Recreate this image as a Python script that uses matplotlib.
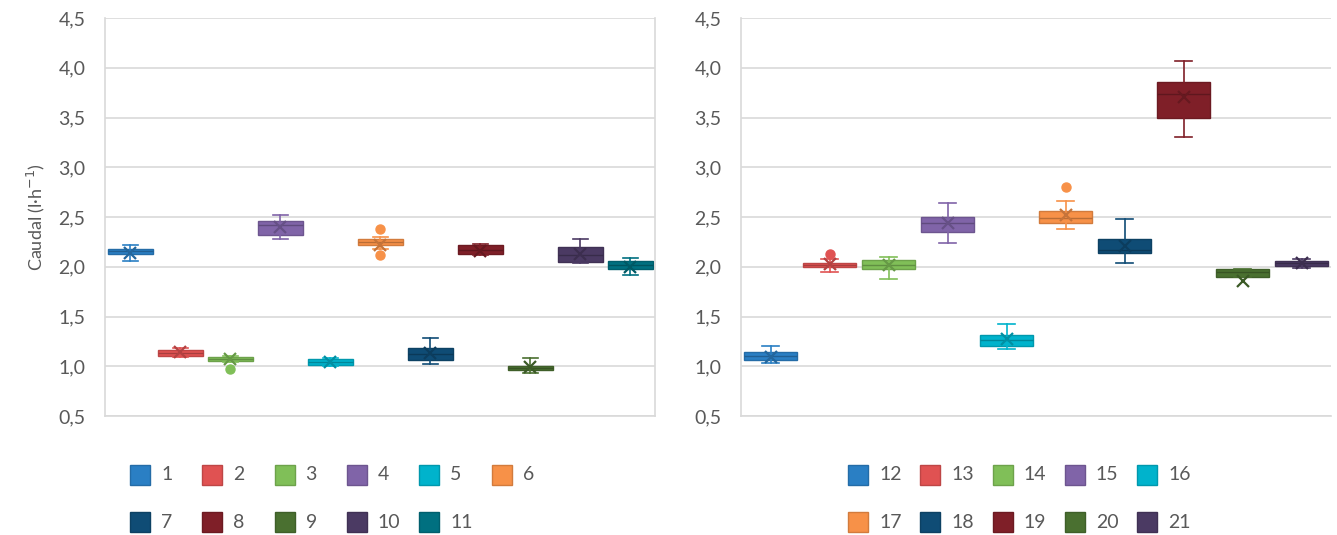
import matplotlib.pyplot as plt
from matplotlib.patches import Rectangle
from matplotlib.ticker import FuncFormatter
import numpy as np

plt.rcParams['font.family'] = ['Lato', 'DejaVu Sans']

# Series 1-11 (left panel)
left_ids = ["1", "2", "3", "4", "5", "6", "7", "8", "9", "10", "11"]
left_whislo = [2.06, 1.09, 1.04, 2.28, 1.00, 2.18, 1.02, 2.12, 0.93, 2.04, 1.92]
left_q1 = [2.13, 1.10, 1.05, 2.32, 1.01, 2.22, 1.06, 2.13, 0.96, 2.05, 1.98]
left_med = [2.16, 1.13, 1.07, 2.42, 1.04, 2.25, 1.12, 2.17, 0.98, 2.12, 2.02]
left_q3 = [2.18, 1.16, 1.09, 2.46, 1.07, 2.28, 1.18, 2.22, 1.00, 2.20, 2.06]
left_whishi = [2.22, 1.18, 1.10, 2.52, 1.08, 2.30, 1.28, 2.23, 1.08, 2.28, 2.09]
left_mean = [2.14, 1.14, 1.07, 2.40, 1.04, 2.22, 1.13, 2.16, 0.99, 2.13, 2.00]
left_fliers = [[], [], [0.97], [], [], [2.38, 2.12], [], [], [], [], []]
left_colors = ["#2A7FC4", "#E05252", "#80BF58", "#8064A8", "#00B3CC", "#F79148",
               "#0F4C75", "#7F1F28", "#4A7030", "#4B3A63", "#007080"]

# Series 12-21 (right panel)
right_ids = ["12", "13", "14", "15", "16", "17", "18", "19", "20", "21"]
right_whislo = [1.03, 1.95, 1.88, 2.24, 1.17, 2.38, 2.04, 3.30, 1.90, 1.99]
right_q1 = [1.06, 2.00, 1.98, 2.35, 1.20, 2.44, 2.14, 3.49, 1.90, 2.01]
right_med = [1.10, 2.02, 2.02, 2.44, 1.26, 2.49, 2.17, 3.74, 1.95, 2.04]
right_q3 = [1.14, 2.04, 2.07, 2.50, 1.31, 2.56, 2.28, 3.86, 1.98, 2.06]
right_whishi = [1.20, 2.08, 2.10, 2.64, 1.42, 2.66, 2.48, 4.07, 1.98, 2.08]
right_mean = [1.09, 2.03, 2.02, 2.44, 1.27, 2.52, 2.21, 3.71, 1.86, 2.04]
right_fliers = [[], [2.13], [], [], [], [2.80], [], [], [], []]
right_colors = ["#2A7FC4", "#E05252", "#80BF58", "#8064A8", "#00B3CC", "#F79148",
                "#0F4C75", "#7F1F28", "#4A7030", "#4B3A63"]

yticks = [0.5, 1.0, 1.5, 2.0, 2.5, 3.0, 3.5, 4.0, 4.5]

text_color = "#595959"
grid_color = "#D9D9D9"

W, H = 1337, 535


def darker(c, f=0.85):
    rgb = np.array(plt.matplotlib.colors.to_rgb(c))
    return tuple(rgb * f)


def draw_panel(ax, ids, lo, q1, med, q3, hi, mean, fliers, colors):
    stats = []
    for i in range(len(ids)):
        stats.append({"label": ids[i], "whislo": lo[i], "q1": q1[i], "med": med[i],
                      "q3": q3[i], "whishi": hi[i], "mean": mean[i], "fliers": fliers[i]})
    pos = np.arange(len(ids))
    art = ax.bxp(stats, positions=pos, widths=0.9, patch_artist=True, showmeans=True,
                 showfliers=True, manage_ticks=False)
    for i, c in enumerate(colors):
        dc = darker(c)
        art["boxes"][i].set_facecolor(c)
        art["boxes"][i].set_edgecolor(dc)
        art["boxes"][i].set_linewidth(1.0)
        art["medians"][i].set_color(darker(c, 0.75))
        art["medians"][i].set_linewidth(1.0)
        for k in (2 * i, 2 * i + 1):
            art["whiskers"][k].set_color(c)
            art["whiskers"][k].set_linewidth(1.2)
            art["caps"][k].set_color(c)
            art["caps"][k].set_linewidth(1.2)
            art["caps"][k].set_xdata([pos[i] - 0.15, pos[i] + 0.15])
        art["means"][i].set_marker("x")
        art["means"][i].set_markeredgecolor(darker(c, 0.8))
        art["means"][i].set_markersize(9)
        art["means"][i].set_markeredgewidth(1.6)
        art["fliers"][i].set_marker("o")
        art["fliers"][i].set_markerfacecolor(c)
        art["fliers"][i].set_markeredgecolor(c)
        art["fliers"][i].set_markersize(6.5)

    ax.set_xlim(-0.5, len(ids) - 0.5)
    ax.set_ylim(0.5, 4.5)
    ax.set_yticks(yticks)
    ax.yaxis.set_major_formatter(FuncFormatter(lambda v, p: ("%.1f" % v).replace(".", ",")))
    ax.set_xticks([])
    ax.grid(axis="y", color=grid_color, linewidth=1.2)
    ax.set_axisbelow(True)
    ax.tick_params(axis="y", length=0, pad=14, labelsize=14, labelcolor=text_color)
    for s in ax.spines.values():
        s.set_color(grid_color)
        s.set_linewidth(1.2)
    ax.spines["top"].set_visible(False)


def draw_legend(fig, ids, colors, x0, ncol, step=72.3, rows_y=(475, 522), size=20):
    # Excel-style legend laid out on a fixed grid (pixel positions of the figure)
    for i, (lab, c) in enumerate(zip(ids, colors)):
        r, col = divmod(i, ncol)
        px = x0 + col * step
        py = rows_y[r]
        fig.patches.append(Rectangle((px / W, (H - py - size / 2) / H), size / W, size / H,
                                     transform=fig.transFigure, facecolor=c,
                                     edgecolor=darker(c), linewidth=1.0))
        fig.text((px + size + 11) / W, (H - py) / H, lab, fontsize=14, color=text_color,
                 ha="left", va="center")


fig = plt.figure(figsize=(W / 100, H / 100), dpi=100)
ax1 = fig.add_axes([105 / W, 119 / H, 550 / W, 398 / H])
ax2 = fig.add_axes([741 / W, 119 / H, 590 / W, 398 / H])

draw_panel(ax1, left_ids, left_whislo, left_q1, left_med, left_q3, left_whishi,
           left_mean, left_fliers, left_colors)
draw_panel(ax2, right_ids, right_whislo, right_q1, right_med, right_q3, right_whishi,
           right_mean, right_fliers, right_colors)
ax2.spines["right"].set_visible(False)

ax1.set_ylabel("Caudal (l·h$^{-1}$)", color=text_color, fontsize=13, labelpad=8)

draw_legend(fig, left_ids, left_colors, 130, 6)
draw_legend(fig, right_ids, right_colors, 848, 5)

fig.savefig("out.png", dpi=100)
